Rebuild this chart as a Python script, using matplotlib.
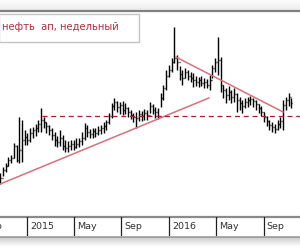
import matplotlib
matplotlib.use('Agg')
import matplotlib.pyplot as plt
import matplotlib.dates as mdates
import numpy as np
import pandas as pd

# ---- data (weekly OHLC) ----
start_date = '2014-10-24'
high = [43, 49, 53, 59, 61, 73, 71, 99, 96, 86, 83, 88, 89, 92, 96, 108, 99, 94, 91, 88,
        84, 80, 86, 81, 76, 75, 76, 76, 78, 78, 84, 93, 91, 87, 88, 88, 90, 91, 94, 96,
        103, 113, 118, 115, 114, 115, 113, 109, 106, 103, 104, 106, 105, 107, 106, 114, 112, 109, 108, 123,
        131, 146, 151, 158, 189, 161, 150, 146, 148, 146, 144, 143, 140, 139, 140, 138, 137, 141, 151, 158,
        179, 159, 131, 128, 130, 126, 128, 123, 119, 116, 118, 119, 120, 118, 116, 112, 110, 104, 100, 96,
        94, 92, 96, 99, 116, 119, 123, 118]
low = [32, 40, 44, 50, 53, 58, 54, 53, 54, 71, 71, 74, 78, 80, 84, 84, 88, 83, 81, 76,
       70, 69, 70, 66, 64, 64, 66, 66, 68, 69, 71, 76, 79, 78, 78, 79, 81, 82, 83, 86,
       92, 98, 106, 104, 102, 101, 102, 99, 97, 94, 88, 95, 95, 96, 96, 103, 102, 98, 97, 109,
       116, 126, 139, 144, 153, 146, 136, 131, 138, 136, 134, 129, 130, 129, 130, 128, 128, 126, 138, 144,
       141, 124, 118, 113, 116, 113, 114, 104, 106, 103, 108, 109, 111, 109, 106, 103, 100, 94, 90, 86,
       84, 83, 86, 88, 86, 106, 110, 108]
close = [38, 46, 50, 56, 58, 70, 56, 66, 76, 79, 76, 83, 86, 88, 92, 96, 94, 90, 86, 81,
         76, 74, 78, 70, 68, 70, 72, 69, 72, 75, 78, 88, 84, 82, 85, 83, 86, 88, 90, 94,
         100, 110, 114, 109, 111, 106, 108, 104, 101, 99, 98, 102, 100, 103, 101, 110, 106, 104, 100, 118,
         128, 140, 146, 154, 158, 154, 142, 138, 144, 140, 138, 136, 134, 136, 133, 134, 131, 136, 148, 154,
         156, 131, 126, 121, 124, 119, 122, 116, 113, 110, 114, 116, 117, 115, 112, 108, 104, 99, 95, 91,
         89, 87, 92, 95, 111, 116, 119, 113]
open_ = [35] + close[:-1]

trend_up_dates = ['2014-10-24', '2016-04-13']
trend_up_vals = [32, 118]
trend_down_dates = ['2016-01-19', '2016-10-21']
trend_down_vals = [159, 104]
level_start = '2015-02-08'
level_val = 100

tick_dates = ['2014-09-05', '2015-01-01', '2015-05-01', '2015-09-01', '2016-01-01', '2016-05-01', '2016-09-01']
tick_labels = ['Sep', '2015', 'May', 'Sep', '2016', 'May', 'Sep']
title = 'нефть  ап, недельный'

dates = pd.date_range(start_date, periods=len(close), freq='7D')
xd = mdates.date2num(dates)

W, H = 300, 250
fig = plt.figure(figsize=(3, 2.5), dpi=100)
fig.patch.set_facecolor('white')

jan1 = mdates.date2num(pd.Timestamp('2015-01-01'))
ppd = 2.72 / 7.0  # pixels per day
x_left = jan1 - 27 / ppd
x_right = jan1 + 273 / ppd

# overlay for frame decorations (pixel coords)
ov = fig.add_axes([0, 0, 1, 1], zorder=0)
ov.set_xlim(0, W)
ov.set_ylim(H, 0)
ov.axis('off')
grad = np.linspace(0.99, 0.93, 10).reshape(-1, 1)
ov.imshow(np.dstack([grad, grad, grad]), extent=(0, W, 10, 0), aspect='auto')
ov.plot([0, W], [10.5, 10.5], color='#808080', lw=1.6)
ov.plot([0, W], [216.5, 216.5], color='#8a8a8a', lw=1.6)
ov.plot([0, W], [236.5, 236.5], color='#9a9a9a', lw=1.2)
grad2 = np.linspace(0.80, 1.0, 10).reshape(-1, 1)
ov.imshow(np.dstack([grad2, grad2, grad2]), extent=(0, W, 247, 237), aspect='auto')
ov.set_xlim(0, W)
ov.set_ylim(H, 0)

# main price axes
ax = fig.add_axes([0, (H - 216) / H, 1, (216 - 12) / H], zorder=2)
ax.patch.set_alpha(0)
ax.set_xlim(x_left, x_right)
ax.set_ylim(0, 204)
ax.axis('off')

half = 2.5
ax.vlines(xd, low, high, color='black', lw=1.0)
ax.hlines(open_, xd - half, xd, color='black', lw=1.0)
ax.hlines(close, xd, xd + half, color='black', lw=1.0)

ax.plot(mdates.date2num(pd.to_datetime(trend_up_dates)), trend_up_vals, color='#d8707c', lw=1.1, zorder=3)
ax.plot(mdates.date2num(pd.to_datetime(trend_down_dates)), trend_down_vals, color='#d8707c', lw=1.1, zorder=3)
ax.plot([mdates.date2num(pd.Timestamp(level_start)), x_right], [level_val, level_val],
        color='#a02028', lw=0.9, ls=(0, (4, 3)), zorder=3)

# title box
ov2 = fig.add_axes([0, 0, 1, 1], zorder=4)
ov2.set_xlim(0, W)
ov2.set_ylim(H, 0)
ov2.axis('off')
ov2.add_patch(plt.Rectangle((-1, 14), 139.5, 27.5, facecolor='white', edgecolor='#c4c4c4', lw=1.0))
ov2.text(1.5, 27, title, color='#b03040', fontsize=7.2, family='DejaVu Sans', va='center', ha='left')

# time axis band
bx = fig.add_axes([0, (H - 236) / H, 1, 19 / H], zorder=3)
bx.set_xlim(x_left, x_right)
bx.set_ylim(0, 1)
bx.axis('off')
for d, lab in zip(tick_dates, tick_labels):
    xn = mdates.date2num(pd.Timestamp(d))
    bx.axvline(xn, color='#202020', lw=0.9)
    t = bx.annotate(lab, (xn, 0.5), xycoords=('data', 'axes fraction'), xytext=(2.3, 0),
                    textcoords='offset points', ha='left', va='center', fontsize=6.8,
                    color='#303030', family='DejaVu Sans', annotation_clip=False)
    t.set_clip_on(True)

fig.savefig('out.png', dpi=100, facecolor='white')
